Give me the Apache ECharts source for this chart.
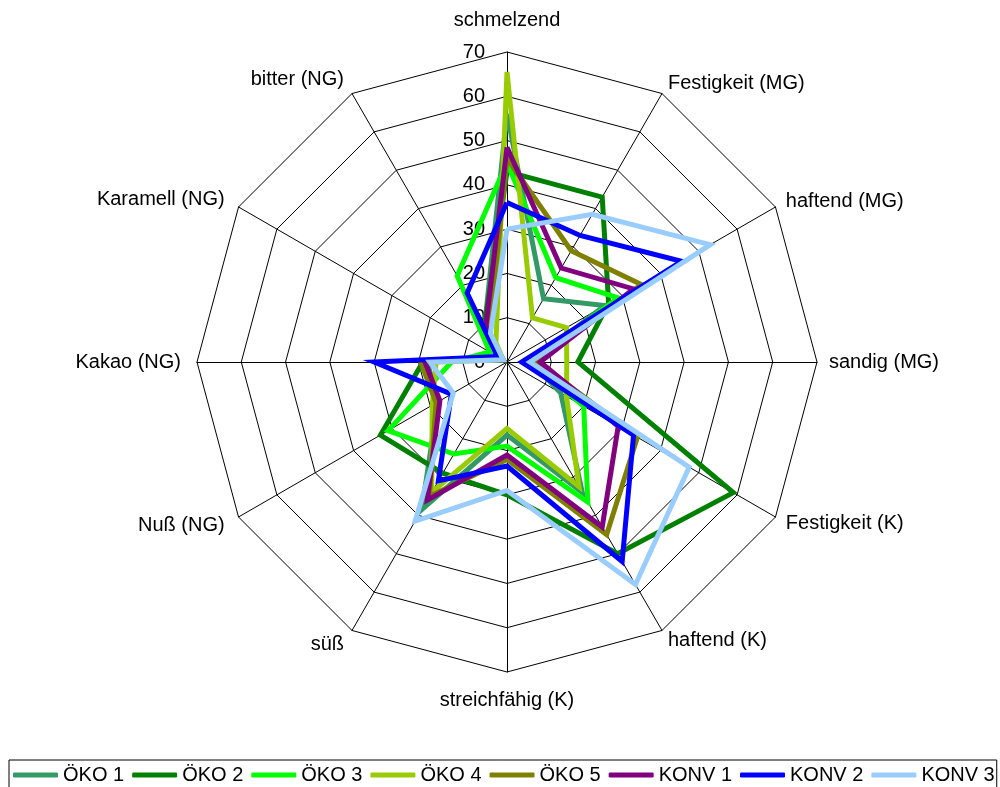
<!DOCTYPE html>
<html>
<head>
<meta charset="utf-8">
<script src="https://cdn.jsdelivr.net/npm/echarts@6/dist/echarts.min.js"></script>
<style>
  html, body { margin: 0; padding: 0; background: #fff; }
  #chart { width: 1000px; height: 787px; }
</style>
</head>
<body>
<div id="chart"></div>
<script>
var axes = ['schmelzend', 'Festigkeit (MG)', 'haftend (MG)', 'sandig (MG)', 'Festigkeit (K)', 'haftend (K)',
  'streichfähig (K)', 'süß', 'Nuß (NG)', 'Kakao (NG)', 'Karamell (NG)', 'bitter (NG)'];
var seriesNames = ['ÖKO 1', 'ÖKO 2', 'ÖKO 3', 'ÖKO 4', 'ÖKO 5', 'KONV 1', 'KONV 2', 'KONV 3'];
var colors = ['#339966', '#008000', '#00ff00', '#99cc00', '#808000', '#800080', '#0000ff', '#99ccff'];

// values per series, in axis order (clockwise from the top)
var oeko1 = [56, 16.5, 25.5, 5.5, 14, 34, 16.5, 38.5, 18, 18, 2, 10];
var oeko2 = [43, 43, 26.5, 16, 59, 50, 30, 29, 33, 19, 2, 10];
var oeko3 = [45, 22, 29, 5.5, 20, 36.5, 19, 24, 31, 12.5, 4.5, 22.5];
var oeko4 = [65.5, 11.5, 15.5, 13.5, 15.5, 32.5, 15, 34, 19.5, 16, 1, 5];
var oeko5 = [46, 29, 35, 7, 34, 45, 22, 35, 18.5, 19.5, 2, 8];
var konv1 = [48.5, 24.5, 33, 7.5, 29, 43, 21, 36, 17.5, 18.5, 2, 9.5];
var konv2 = [36, 33, 45.5, 3.3, 33, 52, 23.5, 31, 14.5, 30, 2.5, 18];
var konv3 = [30, 38.5, 53, 5.2, 47.5, 58, 29, 41.5, 14, 17.4, 1, 7.5];
var allValues = [oeko1, oeko2, oeko3, oeko4, oeko5, konv1, konv2, konv3];

var axisMax = 70;
var font = 'Liberation Sans, Arial, sans-serif';

// echarts lays the radar out counter-clockwise, so feed it the axes in reverse
var order = [0];
for (var k = axes.length - 1; k > 0; k--) order.push(k);
function reorder(arr) { return order.map(function(j) { return arr[j]; }); }

var chart = echarts.init(document.getElementById('chart'), null, { renderer: 'canvas' });

var series = seriesNames.map(function(name, i) {
  return {
    type: 'radar',
    name: name,
    symbol: 'none',
    silent: true,
    lineStyle: { color: colors[i], width: 5, join: 'miter' },
    itemStyle: { color: colors[i] },
    data: [{ name: name, value: reorder(allValues[i]) }]
  };
});

// left-hand names sit a little further out than the right-hand ones
var leftSide = ['süß', 'Nuß (NG)', 'Kakao (NG)', 'Karamell (NG)', 'bitter (NG)'];
var indicators = reorder(axes).map(function(a, i) {
  var ind = { name: a, min: 0, max: axisMax };
  if (i === 0) { ind.axisLabel = { show: true }; ind.nameGap = 22; }
  if (a === 'streichfähig (K)') ind.nameGap = 18;
  if (leftSide.indexOf(a) >= 0) ind.nameGap = 16;
  return ind;
});

chart.setOption({
  animation: false,
  radar: {
    center: [507, 362],
    radius: 310,
    startAngle: 90,
    splitNumber: 7,
    shape: 'polygon',
    nameGap: 12,
    axisName: { color: '#000', fontSize: 20, fontFamily: font },
    indicator: indicators,
    axisLine: { lineStyle: { color: '#000', width: 1 } },
    splitLine: { lineStyle: { color: '#000', width: 1 } },
    splitArea: { show: false },
    axisTick: { show: false },
    axisLabel: { show: false, color: '#000', fontSize: 20, fontFamily: font, margin: 22 }
  },
  legend: {
    left: 9,
    top: 760,
    data: seriesNames,
    icon: 'roundRect',
    itemWidth: 45,
    itemHeight: 5,
    itemGap: 8,
    borderColor: '#000',
    borderWidth: 1,
    padding: [5, 2, 20, 4],
    textStyle: { color: '#000', fontSize: 20, fontFamily: font }
  },
  series: series
});
</script>
</body>
</html>
